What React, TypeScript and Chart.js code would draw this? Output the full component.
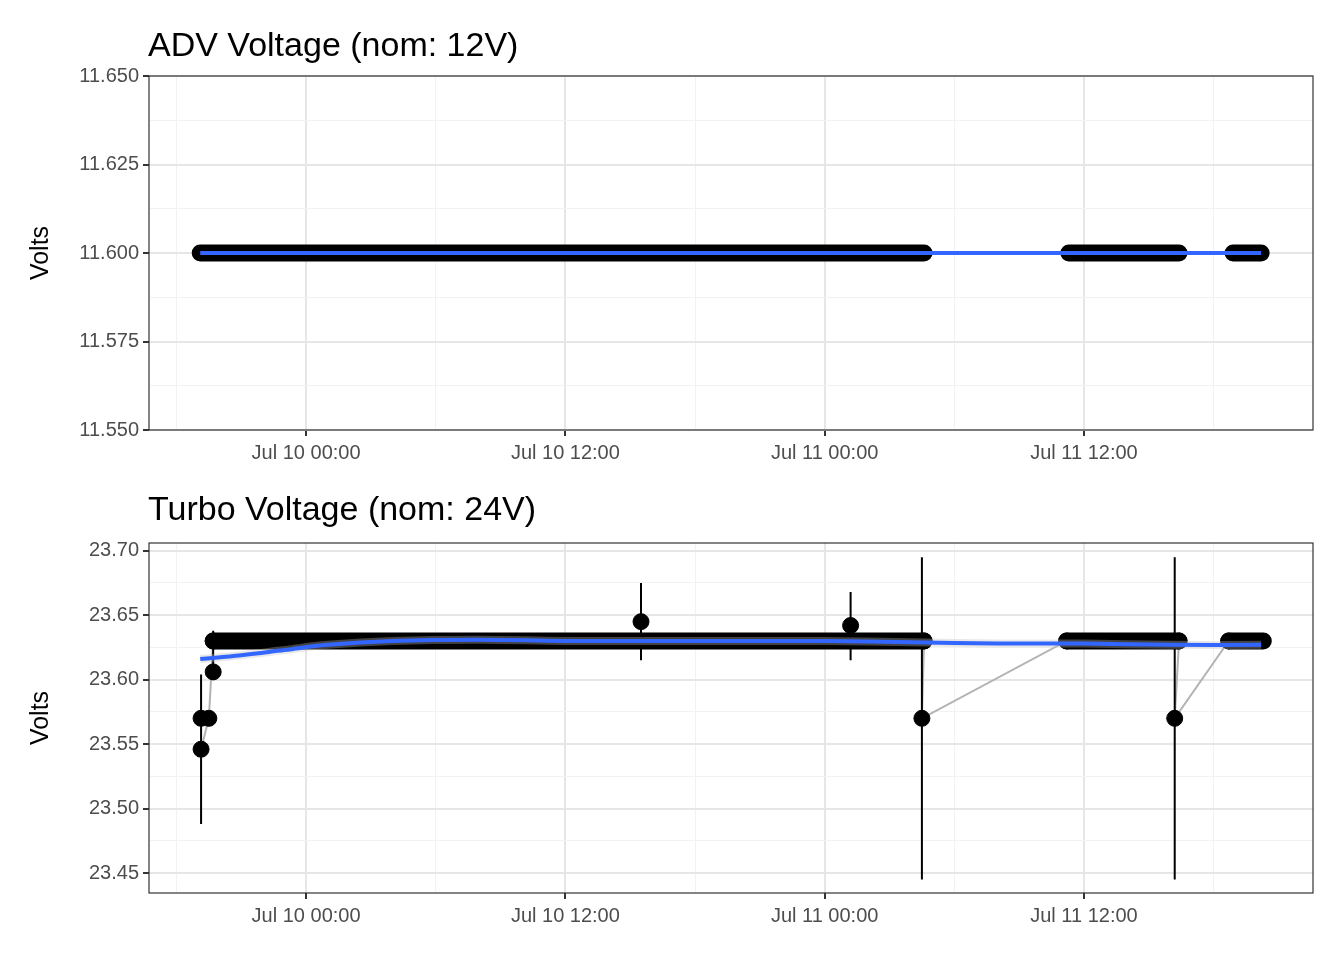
import React, { useEffect, useRef } from "react";
import Chart from "chart.js/auto";

// hours relative to Jul 10 00:00
const xMin = -7.27;
const xMax = 46.6;
const xTicks = [-6, 0, 6, 12, 18, 24, 30, 36, 42];
const xLabels: Record<number, string> = { 0: "Jul 10 00:00", 12: "Jul 10 12:00", 24: "Jul 11 00:00", 36: "Jul 11 12:00" };

// ADV panel
const advBands = [[-4.9, 28.6], [35.3, 40.4], [42.9, 44.2]];
const advLevel = 11.6;
const advSmoothX = [-4.9, 44.2];
const advSmoothY = [11.6, 11.6];

// Turbo panel
const turboBands = [[-4.3, 28.6], [35.2, 40.4], [42.7, 44.3]];
const turboLevel = 23.63;
const turboPtX = [-4.86, -4.86, -4.5, -4.3, -4.3, 15.5, 25.2, 28.5, 28.6, 35.2, 40.4, 40.2, 42.7];
const turboPtY = [23.546, 23.57, 23.57, 23.606, 23.63, 23.645, 23.642, 23.57, 23.63, 23.63, 23.63, 23.57, 23.63];
const turboErrX = [-4.86, -4.3, 15.5, 25.2, 28.5, 40.2];
const turboErrLo = [23.488, 23.6, 23.615, 23.615, 23.445, 23.445];
const turboErrHi = [23.604, 23.638, 23.675, 23.668, 23.695, 23.695];
const turboPathX = [-4.86, -4.5, -4.3, 28.6, 28.5, 35.2, 40.4, 40.2, 42.7, 44.3];
const turboPathY = [23.546, 23.57, 23.63, 23.63, 23.57, 23.63, 23.63, 23.57, 23.63, 23.63];
const turboSmoothX = [-4.9, -3, -1, 1, 4, 8, 12, 16, 20, 24, 28, 32, 36, 40, 44.2];
const turboSmoothY = [23.616, 23.619, 23.623, 23.627, 23.630, 23.631, 23.630, 23.630, 23.630, 23.630, 23.629, 23.628, 23.628, 23.627, 23.627];

const font = "'Liberation Sans', Arial, sans-serif";

const segs = (pairs: number[][][]) => {
  const out: any[] = [];
  pairs.forEach((p) => { p.forEach(([x, y]) => out.push({ x, y })); out.push({ x: NaN, y: null }); });
  return out;
};

const frame = {
  id: "frame",
  afterDraw(c: any) {
    const a = c.chartArea, ctx = c.ctx;
    ctx.save(); ctx.strokeStyle = "#333"; ctx.lineWidth = 1.2;
    ctx.strokeRect(a.left, a.top, a.right - a.left, a.bottom - a.top);
    ctx.restore();
  },
};

function makeOptions(yMin: number, yMax: number, yTicks: number[], labelEvery: number, digits: number, top: number, xh: number) {
  return {
    animation: false,
    responsive: false,
    layout: { padding: { top, right: 31, left: 26, bottom: 0 } },
    plugins: { legend: { display: false }, tooltip: { enabled: false } },
    scales: {
      x: {
        type: "linear", min: xMin, max: xMax,
        afterBuildTicks: (s: any) => { s.ticks = xTicks.map((v) => ({ value: v })); },
        afterFit: (s: any) => { s.height = xh; },
        ticks: { autoSkip: false, maxRotation: 0, color: "#4d4d4d", font: { family: font, size: 20 }, padding: 5,
          callback: (v: any) => xLabels[v] ?? "" },
        grid: {
          color: (c: any) => (c.tick && xLabels[c.tick.value] ? "#e6e6e6" : "#f2f2f2"),
          lineWidth: (c: any) => (c.tick && xLabels[c.tick.value] ? 2 : 1),
          tickColor: (c: any) => (c.tick && xLabels[c.tick.value] ? "#333" : "rgba(0,0,0,0)"),
          tickLength: 6,
        },
        border: { display: false },
      },
      y: {
        min: yMin, max: yMax,
        afterBuildTicks: (s: any) => { s.ticks = yTicks.map((v) => ({ value: v })); },
        afterFit: (s: any) => { s.width = 123; },
        title: { display: true, text: "Volts", color: "#000", font: { family: font, size: 25 }, padding: 0 },
        ticks: { autoSkip: false, color: "#4d4d4d", font: { family: font, size: 20 }, padding: 4,
          callback: (_v: any, i: number) => (i % labelEvery === 0 ? yTicks[i].toFixed(digits) : "") },
        grid: {
          color: (c: any) => (c.index % labelEvery === 0 ? "#e6e6e6" : "#f2f2f2"),
          lineWidth: (c: any) => (c.index % labelEvery === 0 ? 2 : 1),
          tickColor: (c: any) => (c.index % labelEvery === 0 ? "#333" : "rgba(0,0,0,0)"),
          tickLength: 6,
        },
        border: { display: false },
      },
    },
  };
}

const advYTicks = [11.55, 11.5625, 11.575, 11.5875, 11.6, 11.6125, 11.625, 11.6375, 11.65];
const turboYTicks = [23.45, 23.475, 23.5, 23.525, 23.55, 23.575, 23.6, 23.625, 23.65, 23.675, 23.7];

const App: React.FC = () => {
  const topRef = useRef<HTMLCanvasElement | null>(null);
  const botRef = useRef<HTMLCanvasElement | null>(null);

  useEffect(() => {
    const charts: Chart[] = [];
    if (topRef.current) {
      charts.push(new Chart(topRef.current, {
        type: "scatter",
        data: {
          datasets: [
            { data: advSmoothX.map((x, i) => ({ x, y: advSmoothY[i] })), showLine: true, borderColor: "#3366FF", borderWidth: 4, pointRadius: 0, order: 0 },
            { data: segs(advBands.map(([a, b]) => [[a, advLevel], [b, advLevel]])), showLine: true, spanGaps: false, borderColor: "#000", borderWidth: 17, borderCapStyle: "round", pointRadius: 0, order: 5 },
          ],
        },
        options: makeOptions(11.55, 11.65, advYTicks, 2, 3, 76, 50) as any,
        plugins: [frame],
      }));
    }
    if (botRef.current) {
      charts.push(new Chart(botRef.current, {
        type: "scatter",
        data: {
          datasets: [
            { data: turboSmoothX.map((x, i) => ({ x, y: turboSmoothY[i] })), showLine: true, tension: 0.4, borderColor: "#3366FF", borderWidth: 4, pointRadius: 0, order: 0 },
            { data: turboSmoothX.map((x, i) => ({ x, y: turboSmoothY[i] })), showLine: true, tension: 0.4, borderColor: "rgba(190,190,190,0.35)", borderWidth: 8, pointRadius: 0, order: 1 },
            { data: turboPtX.map((x, i) => ({ x, y: turboPtY[i] })), pointRadius: 8, pointBackgroundColor: "#000", pointBorderColor: "#000", order: 2 },
            { data: segs(turboErrX.map((x, i) => [[x, turboErrLo[i]], [x, turboErrHi[i]]])), showLine: true, spanGaps: false, borderColor: "#000", borderWidth: 2, pointRadius: 0, order: 3 },
            { data: segs(turboBands.map(([a, b]) => [[a, turboLevel], [b, turboLevel]])), showLine: true, spanGaps: false, borderColor: "#000", borderWidth: 17, borderCapStyle: "round", pointRadius: 0, order: 4 },
            { data: turboPathX.map((x, i) => ({ x, y: turboPathY[i] })), showLine: true, borderColor: "#b3b3b3", borderWidth: 2, pointRadius: 0, order: 6 },
          ],
        },
        options: makeOptions(23.4345, 23.706, turboYTicks, 2, 2, 63, 67) as any,
        plugins: [frame],
      }));
    }
    return () => charts.forEach((c) => c.destroy());
  }, []);

  const title: React.CSSProperties = { position: "absolute", left: 148, fontFamily: font, fontSize: 34, color: "#000", margin: 0, lineHeight: 1 };
  return (
    <div style={{ position: "absolute", left: 0, top: 0, width: 1344, height: 960, background: "#fff" }}>
      <canvas ref={topRef} width={1344} height={480} style={{ position: "absolute", left: 0, top: 0 }} />
      <canvas ref={botRef} width={1344} height={480} style={{ position: "absolute", left: 0, top: 480 }} />
      <div style={{ ...title, top: 27 }}>ADV Voltage (nom: 12V)</div>
      <div style={{ ...title, top: 491 }}>Turbo Voltage (nom: 24V)</div>
    </div>
  );
};

export default App;
